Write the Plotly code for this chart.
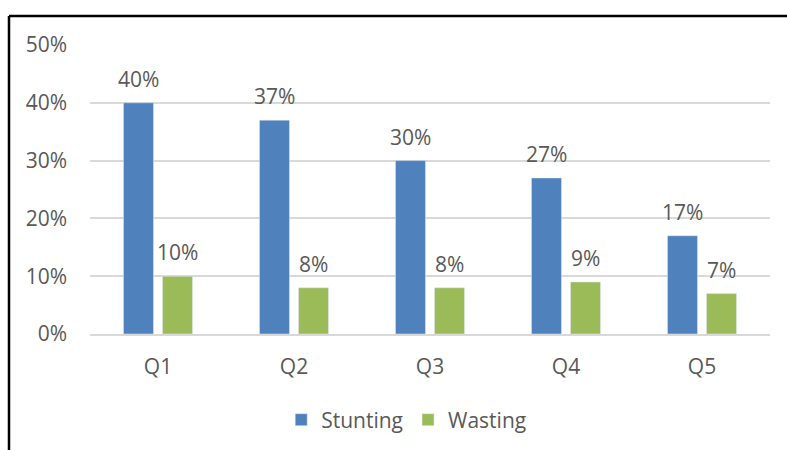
import plotly.graph_objects as go

quintiles = ["Q1", "Q2", "Q3", "Q4", "Q5"]
stunting = [0.40, 0.37, 0.30, 0.27, 0.17]
wasting = [0.10, 0.08, 0.08, 0.09, 0.07]
y_ticks = [0, 0.1, 0.2, 0.3, 0.4, 0.5]

BLUE = "#4f81bd"
GREEN = "#9bbb59"
TEXT = "#595959"
GRID = "#d9d9d9"
FONT = "Open Sans"
FS = 21

fig = go.Figure()
fig.add_trace(go.Bar(name="Stunting", x=quintiles, y=stunting, marker_color=BLUE,
                     offsetgroup="s"))
fig.add_trace(go.Bar(name="Wasting", x=quintiles, y=wasting, marker_color=GREEN,
                     offsetgroup="w"))

# value labels above each bar
W, L, R = 787, 90, 17
plot_w = W - L - R
cat_w = plot_w / len(quintiles)
slot = cat_w * (1 - 0.426) / 2
for i, (s, w) in enumerate(zip(stunting, wasting)):
    for val, off in ((s, -slot / 2), (w, slot / 2)):
        fig.add_annotation(x=i, y=val, xref="x", yref="y", text=f"{round(val*100)}%",
                           showarrow=False, yanchor="bottom", xshift=off, yshift=8,
                           font=dict(family=FONT, size=FS, color=TEXT))

fig.update_layout(
    width=787, height=450,
    margin=dict(l=L, r=R, t=45, b=116, autoexpand=False),
    paper_bgcolor="white", plot_bgcolor="white",
    barmode="group", bargap=0.426, bargroupgap=0.23,
    font=dict(family=FONT, size=FS, color=TEXT),
    showlegend=True,
    legend=dict(orientation="h", x=0.465, xanchor="center",
                yref="container", y=(450 - 420) / 450, yanchor="middle",
                font=dict(family=FONT, size=FS, color=TEXT), itemwidth=30,
                traceorder="normal"),
    xaxis=dict(showgrid=False, showline=True, linecolor=GRID, linewidth=1.5,
               automargin=False,
               ticks="", ticklabelstandoff=13, tickfont=dict(size=FS, color=TEXT)),
    yaxis=dict(range=[0, 0.5], tickvals=y_ticks, tickformat=".0%",
               automargin=False,
               showgrid=True, gridcolor=GRID, gridwidth=1.5, zeroline=False,
               showline=False, ticks="", ticklabelstandoff=22,
               tickfont=dict(size=FS, color=TEXT)),
    shapes=[
        dict(type="line", xref="paper", yref="paper",
             x0=(9 - L) / plot_w, x1=(W + 5 - L) / plot_w,
             y0=(450 - 116 - 16) / 289, y1=(450 - 116 - 16) / 289,
             line=dict(color="black", width=2.5)),
        dict(type="line", xref="paper", yref="paper",
             x0=(9 - L) / plot_w, x1=(9 - L) / plot_w,
             y0=(450 - 116 - 16) / 289, y1=-(116 + 10) / 289,
             line=dict(color="black", width=2.5)),
    ],
)

fig.write_html("out.html")
